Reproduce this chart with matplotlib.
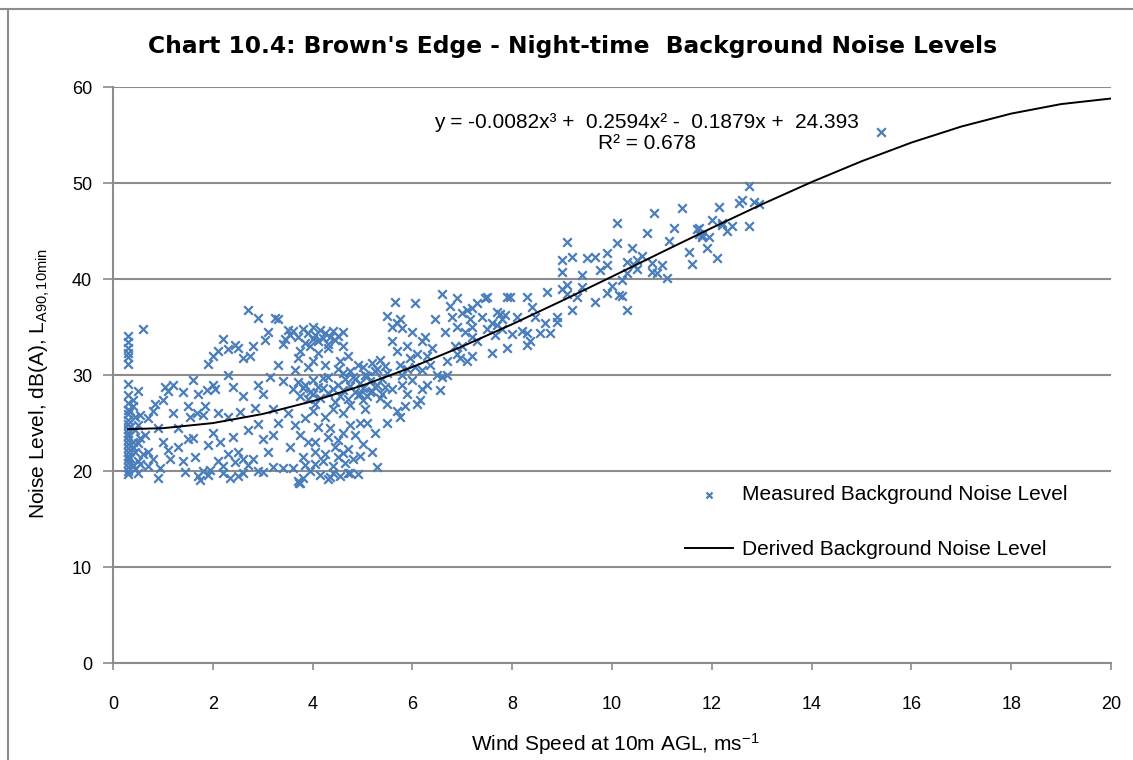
#!/usr/bin/env python3

import numpy as np
import matplotlib
matplotlib.use("Agg")
import matplotlib.pyplot as plt
from matplotlib.lines import Line2D

plt.rcParams["font.family"] = ["Liberation Sans", "DejaVu Sans"]
plt.rcParams["mathtext.fontset"] = "custom"
plt.rcParams["mathtext.rm"] = "Liberation Sans"
plt.rcParams["mathtext.it"] = "Liberation Sans:italic"

# Measured points (wind speed m/s, noise level dB)
# column at the start of the range
col_x = [0.3] * 26
col_y = [34.1, 33.4, 32.8, 32.3, 31.9, 31.1, 29.1, 27.9, 27.1, 26.4, 25.9, 25.3, 24.9,
         24.4, 24.0, 23.6, 23.2, 22.8, 22.4, 22.0, 21.6, 21.2, 20.8, 20.4, 20.0, 19.7]

low_x = [0.4, 0.45, 0.4, 0.5, 0.45, 0.5, 0.55, 0.5, 0.6, 0.45, 0.4, 0.55,
         0.7, 0.8, 0.9, 0.7, 0.8, 0.9, 1.0, 1.0, 1.1, 1.1, 1.2, 1.2, 1.3, 1.3, 1.4, 1.4,
         0.7, 0.95, 1.05, 1.5, 1.5, 1.45, 0.65, 0.85, 1.15]
low_y = [26.8, 24.3, 22.5, 21.0, 20.2, 19.8, 23.4, 28.3, 34.8, 25.6, 27.4, 20.7,
         25.5, 26.3, 24.5, 22.0, 21.2, 19.3, 27.4, 23.0, 22.2, 28.3, 29.0, 26.0, 24.5, 22.5, 21.0, 28.2,
         20.5, 20.3, 28.8, 26.8, 23.3, 19.9, 23.8, 27.0, 21.3]

mid_x = [1.6, 1.7, 1.8, 1.7, 1.75, 1.8, 1.9, 2.0, 2.05, 2.1, 2.0, 2.1, 2.2, 2.2, 2.3, 2.3,
         2.4, 2.4, 2.5, 2.5, 2.6, 2.6, 2.7, 2.7, 2.8, 2.8, 2.9, 2.9, 3.0, 3.0, 3.1, 3.1,
         3.2, 3.2, 3.3, 3.3, 3.3, 3.4, 3.4, 3.4, 1.9, 1.85, 2.3, 2.6, 2.75, 3.05, 2.15,
         2.45, 1.65, 1.95, 2.55, 2.85, 3.15, 2.35, 1.55, 2.0, 2.9, 3.25, 1.88, 1.68, 2.1,
         2.5, 3.5, 3.55]
mid_y = [29.5, 28.0, 25.8, 19.5, 19.1, 20.0, 31.1, 32.0, 28.5, 26.0, 24.0, 21.0, 20.5, 33.8,
         32.7, 30.0, 28.8, 23.5, 22.0, 19.5, 31.8, 27.8, 36.8, 24.3, 33.0, 21.2, 20.0, 29.0,
         28.0, 23.3, 34.5, 22.0, 26.5, 20.4, 35.8, 31.0, 25.0, 33.2, 29.4, 20.3, 22.7, 26.8,
         25.6, 21.2, 32.0, 33.6, 23.0, 33.1, 21.5, 20.1, 26.1, 26.6, 29.8, 19.3, 25.6, 29.0,
         35.9, 35.9, 28.4, 26.0, 32.5, 32.8, 34.7, 34.2]

dense_x = [3.6, 3.7, 3.8, 3.85, 3.9, 4.0, 4.0, 4.05, 4.1, 4.15, 4.2, 4.25, 4.3, 4.35, 4.4,
           4.45, 4.5, 4.6, 3.75, 4.1, 4.3, 4.7, 4.6, 3.95,
           3.6, 3.7, 3.75, 3.8, 3.85, 3.9, 3.95, 4.0, 4.0, 4.05, 4.1, 4.15, 3.65, 3.9, 4.2,
           4.4, 4.5, 4.55, 4.6, 4.65, 4.7, 4.75, 4.8, 4.85, 4.9, 4.95, 5.0, 5.05, 5.1, 5.15,
           5.2, 5.25, 5.3, 5.35, 5.4, 5.45, 5.5, 4.5, 4.9, 5.2, 4.75, 5.05, 4.3, 5.35,
           3.5, 3.55, 3.6, 3.65, 3.7, 3.75, 3.8, 3.85, 3.9, 3.95, 4.0, 4.05, 4.1, 4.15, 4.2,
           4.25, 4.3, 4.35, 4.4, 4.45, 4.5, 4.55, 4.6, 4.65, 4.7, 4.75, 4.8, 4.85, 4.9, 4.95,
           5.0, 5.1, 5.2, 5.3, 5.25, 4.4, 4.6, 3.75, 4.05, 4.35, 3.72, 3.8, 4.3, 4.4]
dense_y = [34.6, 34.0, 34.8, 33.3, 34.4, 33.8, 35.0, 34.2, 33.5, 34.7, 33.9, 34.4, 33.2, 34.0,
           34.6, 33.6, 34.1, 33.0, 32.5, 32.3, 32.8, 32.0, 34.5, 33.0,
           28.5, 29.3, 27.8, 28.6, 29.0, 27.5, 28.2, 29.5, 28.0, 27.0, 28.8, 27.6, 30.5, 30.8,
           29.7, 28.5, 29.0, 27.8, 28.4, 29.6, 27.5, 28.9, 29.8, 28.2, 27.9, 29.2, 28.6, 30.0,
           27.8, 29.4, 28.3, 30.4, 29.0, 27.6, 29.6, 28.8, 30.2, 30.6, 31.0, 31.3, 26.9, 26.5,
           28.1, 31.6,
           26.0, 22.5, 20.3, 24.8, 19.0, 18.7, 21.5, 25.5, 23.0, 20.0, 26.3, 22.0, 24.6, 19.6,
           21.0, 25.6, 23.5, 19.4, 20.5, 22.5, 21.5, 19.5, 24.0, 20.8, 22.3, 19.8, 21.2, 23.8,
           19.7, 25.0, 22.8, 25.0, 22.0, 20.4, 24.0, 26.5, 26.0, 23.8, 20.7, 24.5, 18.8, 19.3,
           19.2, 19.8]

rise_x = [5.5, 5.6, 5.65, 5.7, 5.75, 5.8, 5.6, 5.7, 5.75, 5.8, 5.9, 5.95, 6.0, 6.05, 6.1,
          6.15, 6.2, 6.25, 6.3, 6.35, 6.4, 6.5, 6.55, 6.6, 6.6, 6.65, 6.7, 6.8, 6.85, 6.9,
          6.95, 5.75, 5.5, 5.9, 6.1, 6.2, 6.45, 6.7, 6.0, 5.85, 6.3, 6.05, 6.75, 6.9,
          7.0, 7.1, 7.15, 7.2, 7.05, 7.3, 7.4, 7.45, 7.0, 7.1, 6.9, 7.5, 7.3, 7.2,
          7.5, 7.9, 7.95, 8.3, 8.7, 8.4, 7.75, 7.8, 7.9, 7.6, 7.2, 7.65, 7.2, 8.9, 8.9,
          8.65, 8.55, 8.75, 8.3, 8.2, 8.35, 8.3, 7.7, 7.85, 8.0, 8.1]
rise_y = [36.1, 35.0, 37.6, 35.4, 35.8, 34.9, 33.5, 32.5, 31.0, 30.0, 33.0, 31.8, 29.5, 37.5,
          32.2, 27.4, 30.5, 34.0, 29.0, 31.0, 32.8, 30.0, 28.4, 38.4, 29.8, 34.5, 31.5, 36.0,
          33.0, 38.0, 31.8, 25.6, 25.0, 28.0, 27.0, 33.5, 35.8, 30.0, 34.5, 26.8, 32.0, 30.8,
          37.2, 35.0,
          36.5, 36.8, 35.8, 37.0, 34.5, 33.5, 36.0, 38.0, 33.0, 31.5, 32.2, 34.8, 37.5, 34.0,
          38.1, 38.1, 38.1, 38.1, 38.6, 37.1, 36.4, 35.8, 32.8, 32.3, 32.0, 34.2, 35.0, 36.0,
          35.5, 35.4, 34.4, 34.4, 34.4, 34.6, 33.5, 33.1, 35.2, 36.2, 34.3, 36.0]

high_x = [9.0, 9.1, 9.0, 9.2, 9.1, 9.0, 9.3, 9.2, 9.4, 9.4, 9.5, 9.65, 9.75, 9.9, 9.9, 10.1,
          10.1, 9.9, 10.0, 9.65, 10.15, 10.2, 10.3, 10.2, 10.3, 10.4, 10.3, 10.45, 10.5,
          10.6, 10.7, 10.8, 10.8, 10.85, 11.15, 11.1, 11.25, 11.4, 11.55, 11.6, 11.7, 11.75,
          11.8, 11.75, 12.0, 12.15, 11.8, 11.95, 11.9, 12.1, 12.2, 12.2, 12.4, 12.55, 12.6,
          12.75, 12.75, 12.85, 12.95, 15.4]
high_y = [40.7, 43.9, 42.0, 42.3, 39.4, 39.0, 38.1, 36.8, 39.2, 40.4, 42.2, 42.3, 40.9, 42.7,
          41.5, 45.8, 43.8, 38.5, 39.3, 37.6, 38.3, 38.2, 36.8, 39.9, 40.6, 43.2, 41.8, 41.5,
          41.0, 42.4, 44.8, 41.7, 40.7, 46.9, 44.0, 40.1, 45.3, 47.4, 42.8, 41.6, 45.2, 44.7,
          44.4, 45.3, 46.1, 47.5, 44.6, 44.4, 43.2, 42.2, 45.6, 45.8, 45.5, 47.9, 48.2, 49.7,
          45.5, 48.0, 47.8, 55.3]

extra_x = [0.35, 0.4, 0.45, 0.5, 0.35, 0.55, 0.4, 0.6, 0.5, 0.35,
           1.9, 2.2, 2.3, 2.6, 2.7, 3.0, 2.45, 1.6, 3.2, 2.9,
           4.2, 4.3, 4.45, 4.6, 4.75, 4.85, 5.0, 5.1, 5.25, 5.4, 5.45, 5.3, 5.0, 4.95, 5.15,
           4.0, 4.25, 4.55, 3.7, 3.45,
           4.05, 4.5, 4.75, 4.25, 4.6, 3.85, 4.95, 4.7,
           5.6, 5.8, 5.5, 5.7, 6.2, 5.9,
           7.6, 7.7, 7.8, 8.45, 9.1, 10.5, 10.9, 11.0, 12.3]
extra_y = [21.4, 23.0, 22.0, 24.8, 26.2, 25.8, 20.6, 21.8, 22.9, 24.6,
           19.6, 19.8, 21.8, 19.8, 20.6, 19.9, 20.9, 23.4, 23.8, 24.9,
           28.6, 29.8, 27.2, 30.2, 30.4, 29.6, 27.4, 29.9, 28.7, 28.0, 30.9, 30.6, 30.8, 28.0, 28.2,
           31.5, 31.0, 31.5, 31.8, 33.8,
           23.0, 23.2, 24.8, 21.8, 21.9, 20.6, 21.6, 19.8,
           28.5, 29.0, 27.0, 26.2, 28.5, 30.6,
           35.4, 36.6, 34.8, 36.0, 38.4, 42.0, 40.6, 41.5, 45.0]

wind_speed = col_x + low_x + mid_x + dense_x + rise_x + high_x + extra_x
noise_level = col_y + low_y + mid_y + dense_y + rise_y + high_y + extra_y

# Derived (trend) curve
curve_x = [0.3, 1, 2, 3, 4, 5, 6, 7, 8, 9, 10, 11, 12, 13, 14, 15, 16, 17, 18, 19, 20]
curve_y = [24.36, 24.46, 24.99, 25.94, 27.27, 28.91, 30.83, 32.98, 35.29, 37.74, 40.25,
           42.80, 45.32, 47.77, 50.10, 52.26, 54.21, 55.88, 57.23, 58.22, 58.80]

title = "Chart 10.4: Brown's Edge - Night-time  Background Noise Levels"
equation = "y = -0.0082x\u00b3 +  0.2594x\u00b2 -  0.1879x +  24.393\nR\u00b2 = 0.678"

blue = "#4a7ebb"
grey = "#8c8c8c"

fig = plt.figure(figsize=(11.33, 7.6), dpi=100)
ax = fig.add_axes([113 / 1133, 1 - 663 / 760, 998 / 1133, 576 / 760])

ax.scatter(wind_speed, noise_level, marker="x", s=38, linewidths=1.6, color=blue,
           zorder=3, label="Measured Background Noise Level")
ax.plot(curve_x, curve_y, color="black", lw=1.4, zorder=4,
        label="Derived Background Noise Level")

ax.set_xlim(0, 20)
ax.set_ylim(0, 60)
ax.set_xticks(np.arange(0, 21, 2))
ax.set_yticks(np.arange(0, 61, 10))
ax.yaxis.grid(True, color=grey, lw=1.5)
ax.set_axisbelow(True)

for side in ["top", "right"]:
    ax.spines[side].set_visible(False)
for side in ["left", "bottom"]:
    ax.spines[side].set_color(grey)
    ax.spines[side].set_linewidth(1.5)

ax.tick_params(axis="y", direction="out", length=7, width=1.2, color=grey,
               labelsize=13, pad=8)
ax.tick_params(axis="x", direction="out", length=5, width=1.2, color=grey,
               labelsize=13, pad=19)

ax.set_xlabel(r"Wind Speed at 10m AGL, ms$^{\mathrm{-1}}$", fontsize=15, va="top")
ax.xaxis.set_label_coords(0.503, -0.118)
ax.set_ylabel(r"Noise Level, dB(A), L$_{\mathrm{A90,10min}}$", fontsize=15,
              va="center")
ax.yaxis.set_label_coords(-0.073, 0.485)

ax.text(0.535, 0.92, equation, transform=ax.transAxes, ha="center", va="center",
        fontsize=15, linespacing=1.15)

ax.legend(loc="upper left", bbox_to_anchor=(0.573, 0.309), frameon=False,
          fontsize=15, handlelength=2.3, labelspacing=1.75, markerscale=0.7,
          handletextpad=0.45, borderpad=0, borderaxespad=0)

fig.text(0.505, 1 - 47 / 760, title, ha="center", va="center", fontsize=16.8,
         fontweight="bold", family="DejaVu Sans")

# outer chart frame (only top and left edges visible)
fig.add_artist(Line2D([0, 1], [1 - 9 / 760] * 2, color=grey, lw=1.5))
fig.add_artist(Line2D([8 / 1133] * 2, [0, 1 - 9 / 760], color=grey, lw=1.5))

fig.savefig("out.png", dpi=100)
